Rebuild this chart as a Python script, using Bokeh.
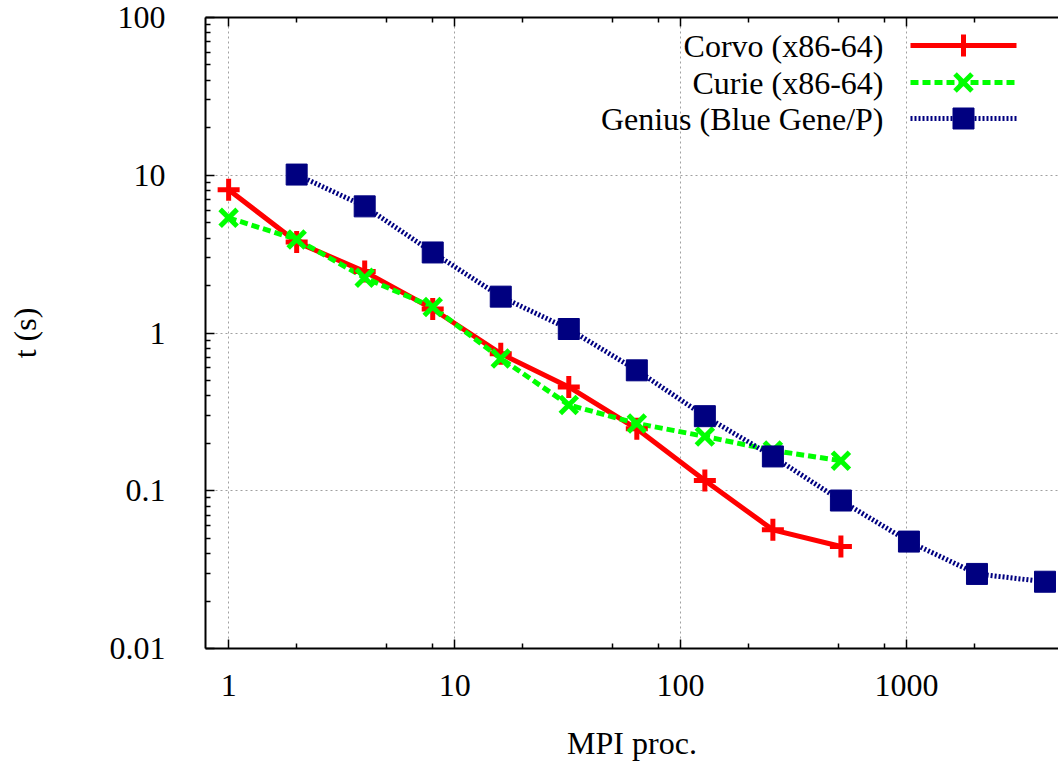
from bokeh.plotting import figure
from bokeh.models import Range1d, LogAxis, FixedTicker, LinearScale, CustomJSTickFormatter
from bokeh.core.properties import value
from bokeh.embed import file_html
from bokeh.resources import INLINE

# ---- data ----
procs_corvo = [1, 2, 4, 8, 16, 32, 64, 128, 256, 512]
t_corvo = [8.1, 3.77, 2.45, 1.42, 0.74, 0.455, 0.247, 0.116, 0.0565, 0.0443]

procs_curie = [1, 2, 4, 8, 16, 32, 64, 128, 256, 512]
t_curie = [5.37, 3.92, 2.24, 1.46, 0.69, 0.35, 0.267, 0.221, 0.18, 0.155]

procs_genius = [2, 4, 8, 16, 32, 64, 128, 256, 512, 1024, 2048, 4096]
t_genius = [10.1, 6.35, 3.24, 1.70, 1.06, 0.58, 0.297, 0.165, 0.0867, 0.0476, 0.0297, 0.0265]

series_labels = ["Corvo (x86-64)", "Curie (x86-64)", "Genius (Blue Gene/P)"]

x_major = [1, 10, 100, 1000]
x_minor = [2, 5, 8, 20, 50, 80, 200, 500, 800, 2000]
y_major = [0.01, 0.1, 1, 10, 100]
y_minor = [m * d for d in [0.01, 0.1, 1, 10] for m in range(2, 10)]

FONT = "Liberation Serif"
FS = "32px"
W, H = 1058, 764
LB, TB, BB = 205, 17, 116

p = figure(width=W, height=H, x_axis_type="log", y_axis_type="log",
           x_range=Range1d(0.79, 4700), y_range=Range1d(0.01, 100),
           output_backend="svg", toolbar_location=None,
           min_border_left=LB, min_border_right=0, min_border_top=TB,
           min_border_bottom=BB)
p.outline_line_color = None
p.background_fill_color = "white"
p.border_fill_color = "white"

fw = W - LB
fh = H - TB - BB
p.extra_x_ranges["leg"] = Range1d(0, fw)
p.extra_y_ranges["leg"] = Range1d(0, fh)
p.extra_x_scales["leg"] = LinearScale()
p.extra_y_scales["leg"] = LinearScale()

plain = CustomJSTickFormatter(code="return String(tick);")


def style_axis(ax):
    ax.axis_line_color = "black"
    ax.axis_line_width = 2
    ax.major_tick_line_color = "black"
    ax.minor_tick_line_color = "black"
    ax.major_tick_line_width = 1.5
    ax.minor_tick_line_width = 1.5
    ax.major_tick_in = 9
    ax.major_tick_out = 0
    ax.minor_tick_in = 5
    ax.minor_tick_out = 0
    ax.major_label_text_font = FONT
    ax.major_label_text_font_size = FS
    ax.major_label_text_color = "black"
    ax.axis_label_text_font = FONT
    ax.axis_label_text_font_size = FS
    ax.axis_label_text_font_style = "normal"
    ax.axis_label_text_color = "black"


xa = p.xaxis[0]
ya = p.yaxis[0]
style_axis(xa)
style_axis(ya)
xa.ticker = FixedTicker(ticks=x_major, minor_ticks=x_minor)
ya.ticker = FixedTicker(ticks=y_major, minor_ticks=y_minor)
xa.formatter = plain
ya.formatter = plain
xa.major_label_standoff = 26
ya.major_label_standoff = 40
xa.axis_label = "MPI proc."
ya.axis_label = "t (s)"
xa.axis_label_standoff = 26
ya.axis_label_standoff = 64

top = LogAxis(ticker=FixedTicker(ticks=x_major, minor_ticks=x_minor))
style_axis(top)
top.major_label_text_font_size = "1px"
top.major_label_text_alpha = 0
top.major_label_standoff = 0
p.add_layout(top, "above")

p.xgrid.ticker = FixedTicker(ticks=x_major)
p.ygrid.ticker = FixedTicker(ticks=y_major)
for g in (p.xgrid[0], p.ygrid[0]):
    g.grid_line_color = "#a0a0a0"
    g.grid_line_dash = "2 3"
    g.grid_line_width = 1

# ---- series ----
RED, GREEN, NAVY = "#ff0000", "#00ff00", "#000080"

p.line(procs_corvo, t_corvo, line_color=RED, line_width=5)
p.line(procs_curie, t_curie, line_color=GREEN, line_width=5, line_dash="8 4")
p.line(procs_genius, t_genius, line_color=NAVY, line_width=5, line_dash="2 2")

p.scatter(procs_corvo, t_corvo, marker="cross", size=22, line_color=RED, line_width=5)
p.scatter(procs_curie, t_curie, marker="x", size=24, line_color=GREEN, line_width=5)
p.scatter(procs_genius, t_genius, marker="square", size=21, fill_color=NAVY, line_color=NAVY)

# ---- legend (text left of sample, as in the original) ----
text_right = 883 - LB
x0, x1 = 910 - LB, 1016 - LB
xm = (x0 + x1) / 2
rows_y = [fh - (45 - TB), fh - (82 - TB), fh - (118 - TB)]
styles = [
    dict(color=RED, dash="solid", marker="cross"),
    dict(color=GREEN, dash="8 4", marker="x"),
    dict(color=NAVY, dash="2 2", marker="square"),
]
for lab, ry, st in zip(series_labels, rows_y, styles):
    p.text(x=[text_right], y=[ry], text=[lab], text_align="right", text_baseline="middle",
           text_font=value(FONT), text_font_size=FS, text_color="black",
           x_range_name="leg", y_range_name="leg")
    p.line([x0, x1], [ry, ry], line_color=st["color"], line_width=5, line_dash=st["dash"],
           x_range_name="leg", y_range_name="leg")
    if st["marker"] == "square":
        p.scatter([xm], [ry], marker="square", size=21, fill_color=NAVY, line_color=NAVY,
                  x_range_name="leg", y_range_name="leg")
    else:
        p.scatter([xm], [ry], marker=st["marker"], size=22 if st["marker"] == "cross" else 24,
                  line_color=st["color"], line_width=5,
                  x_range_name="leg", y_range_name="leg")

open("out.html", "w").write(file_html(p, INLINE))
